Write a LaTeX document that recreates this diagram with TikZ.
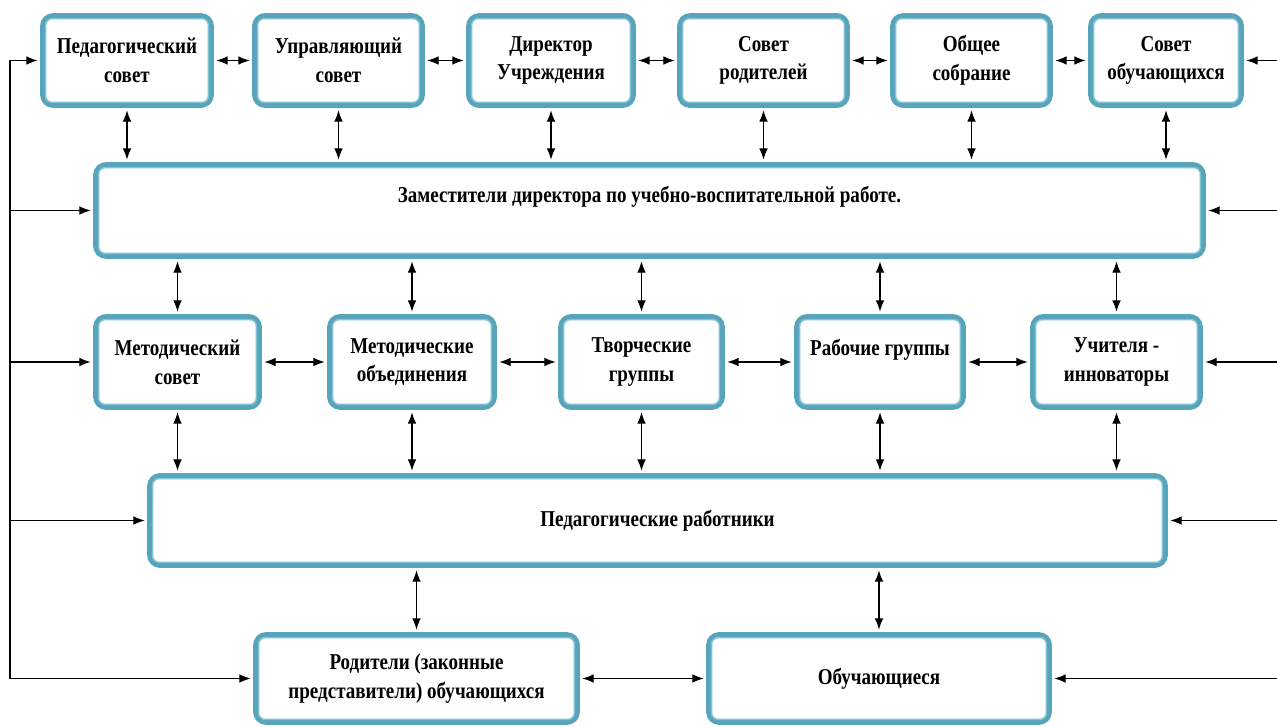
\documentclass[tikz,border=0pt]{standalone}
\usepackage{fontspec}
\setmainfont{Liberation Serif}[FakeStretch=0.84]
\usepackage{tikz}
\usetikzlibrary{calc, arrows.meta}
\definecolor{frameteal}{RGB}{88,164,186}
\definecolor{innerteal}{RGB}{130,195,212}
\tikzset{
    unit/.style={draw=frameteal, line width=3.6pt, rounded corners=8pt, fill=white, align=center,
        font=\fontsize{17}{21.5}\selectfont\bfseries, inner sep=2pt},
    innerline/.style={draw=innerteal, line width=1.1pt, rounded corners=5pt},
    link/.style={line width=0.9pt, <->, shorten >=1.8pt, shorten <=1.8pt},
    feed/.style={line width=0.9pt, ->, shorten >=1.8pt},
}
\begin{document}
\begin{tikzpicture}[x=0.75pt, y=-0.75pt, >={Latex[length=8.5pt,width=6.5pt]}]
        \useasboundingbox (0,0) rectangle (1277,727);
        \coordinate (lrail) at (10,0);
        \coordinate (rrail) at (1277,0);

        \node[unit, minimum width=126.75pt, minimum height=67.5pt] (ps) at (127,60.5) {Педагогический\\совет};
        \node[unit, minimum width=126pt, minimum height=67.5pt] (us) at (338.5,60.5) {Управляющий\\совет};
        \node[unit, minimum width=123.75pt, minimum height=67.5pt] (dir) at (551,60.5) {Директор\\Учреждения};
        \node[unit, minimum width=126pt, minimum height=67.5pt] (sr) at (763.5,60.5) {Совет\\родителей};
        \node[unit, minimum width=118.5pt, minimum height=67.5pt] (os) at (971.5,60.5) {Общее\\собрание};
        \node[unit, minimum width=113.25pt, minimum height=67.5pt] (so) at (1166,60.5) {Совет\\обучающихся};

        \node[unit, minimum width=831pt, minimum height=69pt] (zam) at (649.5,210.5) {Заместители директора по учебно-воспитательной работе.\\[2pt]\mbox{}};

        \node[unit, minimum width=123pt, minimum height=68.25pt] (ms) at (177.5,362) {Методический\\совет};
        \node[unit, minimum width=123.75pt, minimum height=68.25pt] (mo) at (412,362) {Методические\\объединения};
        \node[unit, minimum width=121.5pt, minimum height=68.25pt] (tg) at (641.5,362) {Творческие\\группы};
        \node[unit, minimum width=125.25pt, minimum height=68.25pt] (rg) at (880,362) {Рабочие группы\\\mbox{}};
        \node[unit, minimum width=126pt, minimum height=68.25pt] (ui) at (1116.5,362) {Учителя -\\инноваторы};

        \node[unit, minimum width=762pt, minimum height=67.5pt] (pr) at (657.5,520.5) {Педагогические работники};

        \node[unit, minimum width=241.5pt, minimum height=66pt] (rod) at (416.5,678.5) {Родители (законные\\представители) обучающихся};
        \node[unit, minimum width=255.75pt, minimum height=66pt] (ob) at (879,678.5) {Обучающиеся};

        \foreach \n in {ps,us,dir,sr,os,so,zam,ms,mo,tg,rg,ui,pr,rod,ob}
            \draw[innerline] ($(\n.north west)+(4.1pt,-4.1pt)$) rectangle ($(\n.south east)+(-4.1pt,4.1pt)$);

        \foreach \a/\b in {ps/us,us/dir,dir/sr,sr/os,os/so,ms/mo,mo/tg,tg/rg,rg/ui,rod/ob}
            \draw[link] (\a.east) -- (\b.west);
        \foreach \n in {ps,us,dir,sr,os,so}
            \draw[link] (\n.south) -- (\n.south |- zam.north);
        \foreach \n in {ms,mo,tg,rg,ui} {
            \draw[link] (\n.north) -- (\n.north |- zam.south);
            \draw[link] (\n.south) -- (\n.south |- pr.north);
        }
        \foreach \n in {rod,ob}
            \draw[link] (\n.north) -- (\n.north |- pr.south);

        \draw[line width=0.9pt] (ps.west -| lrail) -- (rod.west -| lrail);
        \foreach \n in {ps,zam,ms,pr,rod}
            \draw[feed] (\n.west -| lrail) -- (\n.west);
        \foreach \n in {so,zam,ui,pr,ob}
            \draw[feed] (\n.east -| rrail) -- (\n.east);
    \end{tikzpicture}
\end{document}
